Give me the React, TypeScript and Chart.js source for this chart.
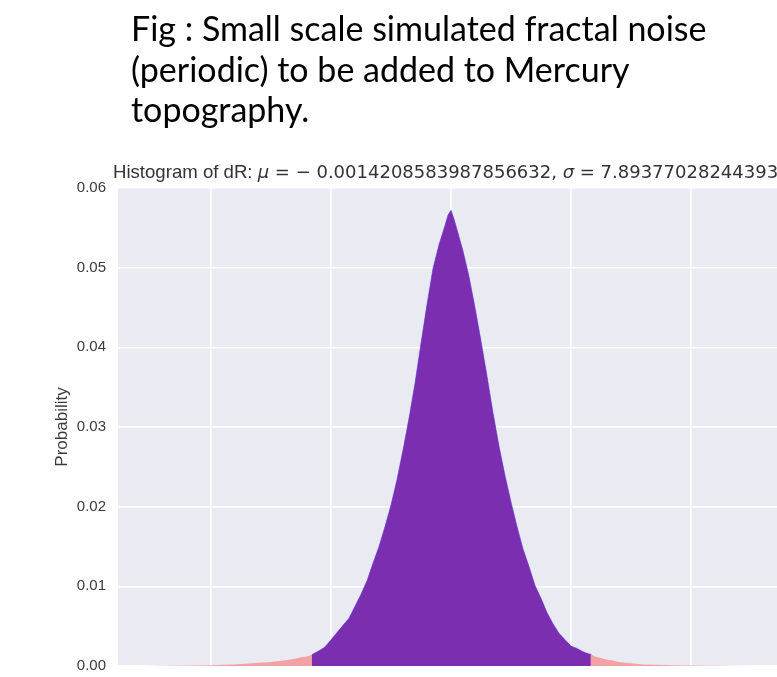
import React, { useEffect, useRef } from "react";
import { Chart, registerables } from "chart.js";

Chart.register(...registerables);

// ---- text ----
const captionLines = [
  "Fig : Small scale simulated fractal noise",
  "(periodic) to be added to Mercury",
  "topography.",
];
const titleLead = "Histogram of dR: ";
const titleMu = "μ";
const titleMuValue = " = − 0.0014208583987856632, ";
const titleSigma = "σ";
const titleSigmaValue = " = 7.89377028244393";
const yAxisLabel = "Probability";

// ---- tick values ----
const xTickValues = [-40, -20, 0, 20, 40];
const yTickValues = [0, 0.01, 0.02, 0.03, 0.04, 0.05, 0.06];

// ---- histogram ----
// central part, drawn by both histograms (overlap looks purple)
const coreX = [
  -23.2, -23, -22, -21, -20, -19, -18, -17, -16, -15, -14, -13, -12, -11, -10, -9, -8, -7, -6, -5, -4, -3, -2, -1,
  -0.5, 0, 0.5, 1, 2, 3, 4, 5, 6, 7, 8, 9, 10, 11, 12, 13, 14, 15, 16, 17, 18, 19, 20, 21, 22, 23, 23.3,
];
const coreY = [
  0.0014, 0.0015, 0.0019, 0.0024, 0.0033, 0.0042, 0.0051, 0.006, 0.0075, 0.009, 0.0107, 0.0129, 0.015, 0.0175,
  0.0202, 0.0234, 0.0271, 0.0311, 0.0355, 0.0405, 0.0454, 0.0499, 0.0529, 0.0553,
  0.0566, 0.0572, 0.0561, 0.0548, 0.0521, 0.0489, 0.045, 0.0408, 0.0364, 0.0318, 0.0276, 0.0239, 0.0206, 0.0175,
  0.0147, 0.0125, 0.0101, 0.0085, 0.0067, 0.0053, 0.0041, 0.0033, 0.0025, 0.0022, 0.0018, 0.0015, 0.0015,
];
// outer tails, only in the wide histogram (pink)
const leftTailX = [-51, -48, -44, -40, -38, -36, -34, -32, -30, -29, -28, -27, -26, -25, -24];
const leftTailY = [0, 0.00002, 0.00005, 0.0001, 0.00015, 0.0002, 0.0003, 0.0004, 0.0005, 0.0006, 0.0007, 0.0008, 0.0009, 0.0011, 0.0012];
const rightTailX = [24, 25, 26, 27, 28, 29, 30, 32, 34, 37, 41, 46, 50];
const rightTailY = [0.0012, 0.001, 0.0008, 0.0007, 0.0005, 0.0004, 0.00035, 0.0002, 0.00015, 0.0001, 0.00005, 0.00002, 0];

const toPoints = (xs: number[], ys: number[]) => xs.map((x, i) => ({ x, y: ys[i] }));

const plotBackground = {
  id: "plotBackground",
  beforeDraw(chart: any) {
    const { ctx, chartArea } = chart;
    ctx.save();
    ctx.fillStyle = "#EAEAF2";
    ctx.fillRect(chartArea.left, chartArea.top, chartArea.right - chartArea.left, chartArea.bottom - chartArea.top);
    ctx.restore();
  },
};

const mathTitle = {
  id: "mathTitle",
  afterDraw(chart: any) {
    const { ctx, chartArea } = chart;
    const runs: [string, string][] = [
      [titleLead, '18.6px "Liberation Sans", Arial, sans-serif'],
      [titleMu, 'italic 18px "DejaVu Sans", sans-serif'],
      [titleMuValue, '18px "DejaVu Sans", sans-serif'],
      [titleSigma, 'italic 18px "DejaVu Sans", sans-serif'],
      [titleSigmaValue, '18px "DejaVu Sans", sans-serif'],
    ];
    ctx.save();
    ctx.fillStyle = "#333333";
    ctx.textBaseline = "alphabetic";
    ctx.textAlign = "left";
    let x = chartArea.left - 5;
    const y = chartArea.top - 10;
    for (const [t, f] of runs) {
      ctx.font = f;
      ctx.fillText(t, x, y);
      x += ctx.measureText(t).width;
    }
    ctx.restore();
  },
};

function HistogramChart() {
  const ref = useRef<HTMLCanvasElement | null>(null);
  useEffect(() => {
    if (!ref.current) return;
    const chart = new Chart(ref.current, {
      type: "line",
      data: {
        datasets: [
          {
            label: "clipped",
            data: toPoints(coreX, coreY),
            borderColor: "rgba(80,60,225,0.55)",
            borderWidth: 1,
            backgroundColor: "#7B2FB0",
            fill: "origin",
            pointRadius: 0,
            tension: 0,
            order: 0,
          },
          {
            label: "all",
            data: [
              ...toPoints(leftTailX, leftTailY),
              ...toPoints(coreX, coreY),
              ...toPoints(rightTailX, rightTailY),
            ],
            borderWidth: 0,
            borderColor: "rgba(0,0,0,0)",
            backgroundColor: "#F2A2A6",
            fill: "origin",
            pointRadius: 0,
            tension: 0,
            order: 1,
          },
        ],
      },
      options: {
        animation: false,
        responsive: false,
        maintainAspectRatio: false,
        layout: { padding: { top: 188, left: 0, right: 16, bottom: 14 } },
        plugins: { legend: { display: false }, title: { display: false }, tooltip: { enabled: false } },
        scales: {
          x: {
            type: "linear",
            min: -55.5,
            max: 55.5,
            afterBuildTicks: (axis: any) => {
              axis.ticks = xTickValues.map((value) => ({ value }));
            },
            afterFit: (s: any) => {
              s.height = 40;
            },
            grid: { color: "#FFFFFF", lineWidth: 1.6, drawTicks: false },
            border: { display: false },
            ticks: {
              padding: 9,
              color: "#3a3a3a",
              font: { family: '"Liberation Sans", Arial, sans-serif', size: 15 },
              callback: (v: any) => String(v).replace("-", "−"),
            },
          },
          y: {
            type: "linear",
            min: 0,
            max: 0.06,
            afterBuildTicks: (axis: any) => {
              axis.ticks = yTickValues.map((value) => ({ value }));
            },
            afterFit: (s: any) => {
              s.width = 118;
            },
            grid: { color: "#FFFFFF", lineWidth: 1.6, drawTicks: false },
            border: { display: false },
            ticks: {
              padding: 12,
              color: "#3a3a3a",
              font: { family: '"Liberation Sans", Arial, sans-serif', size: 15 },
              callback: (v: any) => Number(v).toFixed(2),
            },
            title: {
              display: true,
              text: yAxisLabel,
              color: "#3a3a3a",
              font: { family: '"Liberation Sans", Arial, sans-serif', size: 17 },
              padding: { top: 52, bottom: 0 },
            },
          },
        },
      },
      plugins: [plotBackground, mathTitle],
    });
    return () => chart.destroy();
  }, []);
  return (
    <canvas
      ref={ref}
      width={800}
      height={720}
      style={{ position: "absolute", left: 0, top: 0, width: 800, height: 720 }}
    />
  );
}

export default function App() {
  return (
    <div
      style={{
        position: "fixed",
        left: 0,
        top: 0,
        width: 777,
        height: 677,
        overflow: "hidden",
        background: "#FFFFFF",
      }}
    >
      <HistogramChart />
      <div
        style={{
          position: "absolute",
          left: 131,
          top: 8,
          fontFamily: "Lato, sans-serif",
          fontSize: 34,
          lineHeight: "40.5px",
          color: "#000000",
          whiteSpace: "nowrap",
        }}
      >
        {captionLines.map((l) => (
          <div key={l}>{l}</div>
        ))}
      </div>
    </div>
  );
}
